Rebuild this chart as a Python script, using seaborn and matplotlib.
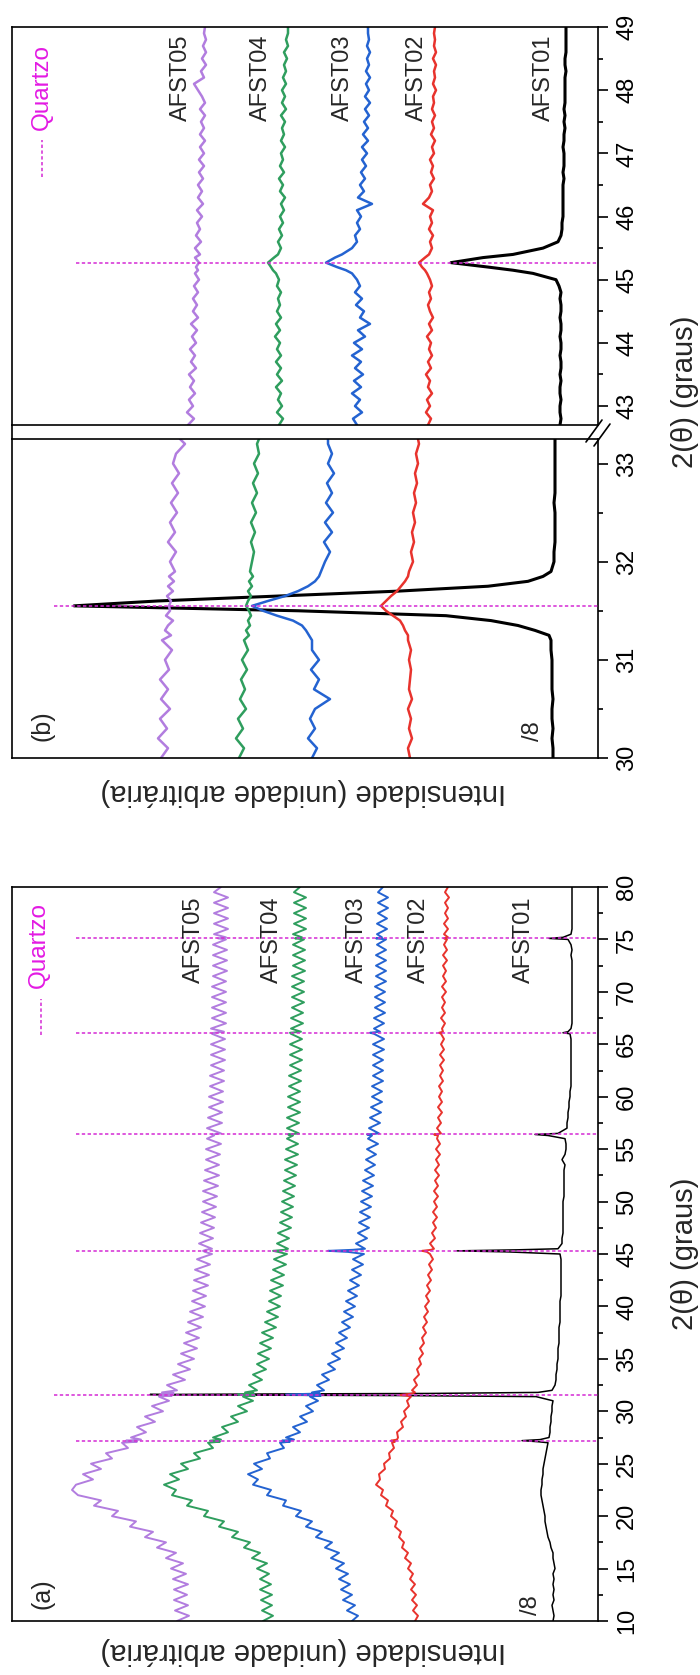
import numpy as np
import pandas as pd
import matplotlib
matplotlib.use("Agg")
import matplotlib.pyplot as plt
import seaborn as sns
from matplotlib.ticker import MultipleLocator
from matplotlib.lines import Line2D

sns.set_theme(style="white")
plt.rcParams['font.family'] = ['Liberation Sans', 'DejaVu Sans']

# ---------------- data ----------------
SAMPLES = ["AFST01", "AFST02", "AFST03", "AFST04", "AFST05"]
COLORS = {"AFST01": "#000000", "AFST02": "#e8332d", "AFST03": "#2463d1",
          "AFST04": "#2f9e5e", "AFST05": "#b27ddf"}
QUARTZ_COLOR = "#d42ad4"

# panel (a): 2theta grid (degrees) and intensity (arb. units)
THETA_A = [10.0, 10.5, 11.0, 11.5, 12.0, 12.5, 13.0, 13.5, 14.0, 14.5,
           15.0, 15.5, 16.0, 16.5, 17.0, 17.5, 18.0, 18.5, 19.0, 19.5,
           20.0, 20.5, 21.0, 21.5, 22.0, 22.5, 23.0, 23.5, 24.0, 24.5,
           25.0, 25.5, 26.0, 26.5, 27.0, 27.1, 27.2, 27.3, 27.5, 28.0,
           28.5, 29.0, 29.5, 30.0, 30.5, 31.0, 31.4, 31.5, 31.55, 31.6,
           31.65, 31.7, 31.8, 32.0, 32.5, 33.0, 33.5, 34.0, 34.5, 35.0,
           35.5, 36.0, 36.5, 37.0, 37.5, 38.0, 38.5, 39.0, 39.5, 40.0,
           40.5, 41.0, 41.5, 42.0, 42.5, 43.0, 43.5, 44.0, 44.5, 45.0,
           45.2, 45.3, 45.4, 45.5, 46.0, 46.5, 47.0, 47.5, 48.0, 48.5,
           49.0, 49.5, 50.0, 50.5, 51.0, 51.5, 52.0, 52.5, 53.0, 53.5,
           54.0, 54.5, 55.0, 55.5, 56.0, 56.3, 56.4, 56.5, 57.0, 57.5,
           58.0, 58.5, 59.0, 59.5, 60.0, 60.5, 61.0, 61.5, 62.0, 62.5,
           63.0, 63.5, 64.0, 64.5, 65.0, 65.5, 66.0, 66.1, 66.2, 66.5,
           67.0, 67.5, 68.0, 68.5, 69.0, 69.5, 70.0, 70.5, 71.0, 71.5,
           72.0, 72.5, 73.0, 73.5, 74.0, 74.5, 75.0, 75.1, 75.2, 75.5,
           76.0, 76.5, 77.0, 77.5, 78.0, 78.5, 79.0, 79.5, 80.0]

A_AFST01 = [45, 44, 45, 46, 44, 45, 44, 45, 44, 45,
            43, 44, 45, 45, 47, 48, 50, 51, 52, 53,
            53, 54, 55, 56, 57, 57, 56, 56, 55, 55,
            54, 53, 52, 51, 50, 60, 76, 58, 49, 48,
            48, 47, 47, 46, 46, 45, 62, 200, 400, 448,
            330, 170, 60, 46, 43, 42, 42, 41, 41, 40,
            40, 40, 39, 39, 39, 39, 38, 38, 38, 38,
            38, 37, 37, 37, 37, 37, 37, 37, 37, 38,
            90, 141, 80, 40, 36, 36, 35, 35, 35, 35,
            35, 35, 35, 34, 34, 34, 34, 34, 34, 33,
            36, 33, 32, 32, 33, 50, 63, 40, 31, 31,
            30, 30, 29, 29, 28, 28, 27, 27, 27, 27,
            27, 27, 27, 27, 27, 27, 28, 35, 30, 27,
            26, 26, 26, 26, 26, 26, 26, 26, 26, 26,
            26, 26, 26, 27, 26, 27, 30, 49, 35, 27,
            26, 26, 26, 26, 26, 26, 26, 26, 26]

A_AFST02 = [183, 180, 185, 181, 186, 182, 187, 183, 188, 185,
            190, 187, 193, 190, 196, 194, 199, 197, 203, 201,
            207, 205, 212, 210, 217, 215, 222, 218, 219, 213,
            214, 208, 209, 204, 206, 203, 207, 201, 200, 201,
            195, 197, 192, 194, 189, 191, 187, 192, 198, 195,
            189, 186, 183, 186, 181, 184, 179, 181, 177, 179,
            175, 178, 174, 176, 172, 175, 171, 174, 170, 173,
            169, 172, 168, 171, 167, 170, 166, 169, 165, 168,
            171, 176, 167, 164, 168, 163, 166, 162, 165, 161,
            165, 161, 164, 160, 164, 160, 163, 159, 163, 159,
            162, 158, 162, 158, 161, 160, 164, 157, 161, 157,
            160, 156, 160, 156, 159, 156, 159, 155, 158, 155,
            158, 154, 158, 154, 157, 154, 157, 159, 155, 156,
            153, 157, 153, 156, 153, 156, 152, 156, 152, 155,
            152, 155, 151, 155, 151, 154, 151, 154, 150, 154,
            150, 154, 150, 153, 150, 153, 149, 153, 150]

A_AFST03 = [246, 240, 251, 243, 255, 246, 257, 248, 259, 250,
            262, 254, 267, 259, 273, 266, 282, 276, 292, 286,
            302, 297, 315, 312, 331, 327, 345, 340, 350, 336,
            344, 328, 331, 314, 318, 308, 316, 304, 312, 298,
            305, 291, 298, 285, 292, 280, 288, 277, 295, 312,
            295, 278, 286, 274, 281, 269, 276, 263, 270, 258,
            266, 254, 262, 251, 259, 248, 256, 245, 254, 243,
            252, 241, 250, 239, 248, 237, 246, 235, 245, 234,
            250, 270, 245, 233, 242, 231, 240, 229, 239, 228,
            238, 227, 237, 226, 236, 225, 235, 224, 233, 223,
            232, 222, 231, 220, 230, 226, 231, 219, 229, 218,
            228, 217, 227, 216, 226, 216, 226, 215, 225, 215,
            225, 215, 225, 214, 225, 214, 224, 228, 218, 224,
            214, 224, 213, 223, 213, 223, 213, 223, 212, 222,
            212, 222, 212, 222, 212, 221, 212, 222, 216, 221,
            211, 221, 211, 220, 210, 220, 210, 220, 215]

A_AFST04 = [335, 325, 336, 326, 337, 326, 338, 327, 338, 329,
            341, 331, 346, 338, 354, 348, 366, 360, 379, 374,
            394, 390, 411, 406, 426, 422, 434, 419, 428, 410,
            417, 398, 404, 385, 390, 378, 388, 377, 385, 370,
            376, 360, 367, 351, 360, 345, 355, 343, 356, 360,
            352, 344, 353, 341, 349, 336, 345, 332, 341, 329,
            340, 327, 338, 325, 336, 322, 333, 320, 331, 318,
            329, 317, 328, 315, 327, 314, 325, 312, 324, 311,
            320, 325, 314, 310, 321, 309, 320, 307, 318, 306,
            317, 305, 316, 304, 315, 303, 314, 302, 313, 301,
            313, 300, 312, 300, 311, 305, 310, 299, 311, 299,
            311, 298, 310, 298, 310, 298, 309, 297, 309, 297,
            308, 296, 308, 296, 308, 296, 307, 308, 297, 307,
            295, 307, 295, 306, 294, 306, 294, 306, 294, 306,
            293, 305, 293, 305, 293, 305, 294, 303, 296, 305,
            292, 304, 292, 304, 292, 304, 292, 304, 298]

A_AFST05 = [421, 409, 423, 410, 424, 411, 424, 410, 425, 412,
            427, 415, 432, 422, 441, 432, 453, 445, 468, 462,
            486, 480, 504, 497, 520, 526, 522, 505, 515, 497,
            507, 486, 492, 470, 476, 461, 472, 457, 467, 452,
            461, 443, 453, 435, 446, 429, 439, 426, 438, 425,
            437, 424, 436, 421, 431, 413, 425, 408, 420, 404,
            417, 401, 414, 399, 412, 397, 410, 395, 408, 393,
            406, 392, 405, 390, 404, 389, 403, 388, 401, 386,
            393, 395, 392, 386, 399, 385, 398, 384, 397, 383,
            396, 382, 395, 381, 395, 380, 394, 379, 393, 379,
            392, 378, 392, 377, 391, 384, 386, 377, 391, 376,
            390, 376, 389, 375, 389, 375, 388, 374, 388, 374,
            387, 373, 387, 373, 387, 373, 386, 384, 374, 387,
            372, 386, 372, 386, 372, 386, 372, 386, 372, 385,
            371, 385, 371, 385, 371, 385, 372, 380, 372, 384,
            370, 384, 370, 384, 370, 384, 370, 384, 377]

# panel (b), low-angle segment
THETA_B_LOW = [30.0, 30.1, 30.2, 30.3, 30.4, 30.5, 30.6, 30.7, 30.8, 30.9,
               31.0, 31.1, 31.2, 31.25, 31.3, 31.35, 31.4, 31.45, 31.5, 31.55,
               31.6, 31.65, 31.7, 31.75, 31.8, 31.85, 31.9, 32.0, 32.1, 32.2,
               32.3, 32.4, 32.5, 32.6, 32.7, 32.8, 32.9, 33.0, 33.1, 33.2,
               33.25]
BL_AFST01 = [45, 45, 46, 45, 46, 46, 45, 46, 46, 46,
             46, 47, 47, 49, 63, 80, 107, 152, 300, 524,
             440, 320, 200, 110, 70, 55, 47, 44, 44, 43,
             43, 43, 43, 44, 43, 43, 43, 43, 43, 43,
             43]
BL_AFST02 = [188, 190, 186, 189, 187, 190, 186, 189, 188, 187,
             189, 187, 190, 190, 193, 195, 198, 205, 212, 217,
             212, 207, 201, 197, 193, 190, 189, 185, 187, 184,
             186, 183, 185, 182, 184, 181, 183, 180, 182, 179,
             180]
BL_AFST03 = [286, 281, 290, 283, 288, 283, 268, 284, 279, 287,
             279, 286, 286, 289, 292, 296, 305, 321, 335, 346,
             330, 313, 300, 290, 283, 279, 277, 273, 268, 274,
             266, 273, 265, 272, 266, 271, 264, 270, 266, 270,
             270]
BL_AFST04 = [359, 354, 362, 355, 360, 352, 358, 353, 357, 351,
             356, 350, 354, 349, 352, 348, 350, 347, 349, 352,
             350, 347, 350, 346, 349, 345, 348, 346, 344, 347,
             343, 347, 342, 346, 341, 345, 340, 344, 339, 341,
             339]
BL_AFST05 = [437, 430, 440, 431, 438, 428, 437, 430, 438, 429,
             433, 426, 436, 427, 433, 430, 425, 432, 428, 429,
             427, 431, 425, 430, 424, 429, 423, 428, 422, 430,
             423, 428, 421, 427, 420, 426, 419, 425, 422, 413,
             418]

# panel (b), high-angle segment
THETA_B_HIGH = [42.7, 42.8, 42.9, 43.0, 43.1, 43.2, 43.3, 43.4, 43.5, 43.6,
                43.7, 43.8, 43.9, 44.0, 44.1, 44.2, 44.3, 44.4, 44.5, 44.6,
                44.7, 44.8, 44.9, 45.0, 45.1, 45.15, 45.2, 45.27, 45.35, 45.4,
                45.5, 45.6, 45.7, 45.8, 45.9, 46.0, 46.1, 46.2, 46.3, 46.4,
                46.5, 46.6, 46.7, 46.8, 46.9, 47.0, 47.1, 47.2, 47.3, 47.4,
                47.5, 47.6, 47.7, 47.8, 47.9, 48.0, 48.1, 48.2, 48.3, 48.4,
                48.5, 48.6, 48.7, 48.8, 48.9, 49.0]
BH_AFST01 = [38, 37, 38, 38, 37, 38, 38, 37, 38, 37,
             37, 38, 37, 37, 38, 37, 37, 38, 37, 37,
             38, 37, 39, 42, 65, 85, 110, 147, 115, 85,
             55, 40, 37, 36, 36, 35, 35, 35, 35, 35,
             35, 34, 35, 34, 34, 34, 35, 34, 34, 33,
             34, 33, 34, 33, 33, 33, 33, 33, 32, 33,
             33, 32, 32, 32, 32, 32]
BH_AFST02 = [170, 167, 172, 168, 171, 166, 170, 168, 172, 167,
             170, 166, 169, 167, 171, 166, 169, 165, 168, 170,
             167, 169, 166, 168, 171, 173, 176, 179, 173, 169,
             166, 168, 165, 169, 166, 168, 165, 175, 169, 166,
             168, 164, 167, 165, 168, 164, 166, 163, 167, 164,
             166, 163, 166, 164, 165, 162, 165, 163, 164, 162,
             165, 162, 164, 163, 164, 163]
BH_AFST03 = [241, 245, 236, 243, 238, 246, 237, 244, 235, 243,
             237, 246, 236, 244, 233, 240, 228, 238, 234, 242,
             236, 243, 238, 241, 246, 252, 261, 272, 263, 256,
             246, 241, 243, 238, 241, 237, 241, 226, 240, 234,
             238, 233, 237, 232, 236, 231, 236, 230, 235, 230,
             234, 229, 233, 228, 233, 229, 232, 228, 232, 229,
             231, 228, 231, 229, 230, 230]
BH_AFST04 = [319, 315, 321, 316, 320, 317, 322, 316, 321, 317,
             322, 317, 321, 318, 323, 318, 322, 317, 321, 318,
             320, 317, 321, 319, 322, 325, 327, 330, 324, 320,
             317, 320, 316, 319, 315, 318, 314, 317, 313, 318,
             315, 319, 314, 318, 315, 317, 313, 317, 314, 316,
             313, 317, 312, 316, 313, 316, 312, 315, 312, 314,
             311, 314, 310, 312, 310, 310]
BH_AFST05 = [410, 404, 411, 405, 409, 403, 408, 404, 409, 402,
             407, 403, 408, 402, 406, 401, 407, 400, 405, 401,
             405, 400, 404, 399, 403, 400, 402, 399, 403, 398,
             403, 397, 402, 398, 401, 396, 401, 395, 400, 396,
             400, 395, 399, 394, 399, 394, 398, 393, 398, 394,
             397, 393, 398, 393, 396, 400, 404, 394, 397, 392,
             396, 392, 395, 392, 394, 393]

QUARTZ_A = [27.2, 31.6, 45.3, 56.4, 66.1, 75.1]
QUARTZ_B = [31.55, 45.27]

SERIES_A = dict(zip(SAMPLES, [A_AFST01, A_AFST02, A_AFST03, A_AFST04, A_AFST05]))
SERIES_BL = dict(zip(SAMPLES, [BL_AFST01, BL_AFST02, BL_AFST03, BL_AFST04, BL_AFST05]))
SERIES_BH = dict(zip(SAMPLES, [BH_AFST01, BH_AFST02, BH_AFST03, BH_AFST04, BH_AFST05]))

for th, ser in [(THETA_A, SERIES_A), (THETA_B_LOW, SERIES_BL), (THETA_B_HIGH, SERIES_BH)]:
    for k, v in ser.items():
        assert len(v) == len(th), (k, len(v), len(th))

# ---------------- figure ----------------
W, H = 700, 1675
fig = plt.figure(figsize=(W / 100, H / 100), dpi=100)


def fx(px):
    return px / W


def fy(py):
    return 1 - py / H


LEFT, RIGHT = 12, 598
ax_a = fig.add_axes([fx(LEFT), fy(1621), (RIGHT - LEFT) / W, (1621 - 887) / H])
ax_bh = fig.add_axes([fx(LEFT), fy(425), (RIGHT - LEFT) / W, (425 - 27) / H])
ax_bl = fig.add_axes([fx(LEFT), fy(758), (RIGHT - LEFT) / W, (758 - 439) / H])


def draw(ax, theta, series, lw, lw_black):
    for name in SAMPLES:
        df = pd.DataFrame({"theta": theta, "I": series[name]})
        sns.lineplot(data=df, x="I", y="theta", orient="y", sort=False,
                     estimator=None, color=COLORS[name],
                     lw=(lw_black if name == "AFST01" else lw), ax=ax, zorder=2)


def style(ax, ylim, major, minor, xmax):
    ax.set_xlim(xmax, 0)
    ax.set_ylim(*ylim)
    ax.set_xticks([])
    ax.set_xlabel("")
    ax.set_ylabel("")
    for s in ax.spines.values():
        s.set_visible(True)
        s.set_color("black")
        s.set_linewidth(1.2)
    ax.yaxis.tick_right()
    ax.yaxis.set_major_locator(MultipleLocator(major))
    ax.yaxis.set_minor_locator(MultipleLocator(minor))
    ax.tick_params(axis="y", which="major", direction="out", length=7, width=1.2,
                   colors="black", labelsize=17, labelrotation=90, pad=6,
                   left=False, right=True, labelleft=False, labelright=True)
    ax.tick_params(axis="y", which="minor", direction="out", length=3.5, width=1.2,
                   colors="black", left=False, right=True)
    for lab in ax.get_yticklabels():
        lab.set_va("center")


draw(ax_a, THETA_A, SERIES_A, 1.4, 1.1)
draw(ax_bl, THETA_B_LOW, SERIES_BL, 1.8, 2.2)
draw(ax_bh, THETA_B_HIGH, SERIES_BH, 1.8, 2.2)

style(ax_a, (10, 80), 5, 2.5, RIGHT - LEFT)
style(ax_bl, (30, 33.25), 1, 0.5, RIGHT - LEFT)
style(ax_bh, (42.7, 49), 1, 0.5, RIGHT - LEFT)

# quartz reference lines
qkw = dict(color=QUARTZ_COLOR, lw=1.1, linestyle=(0, (2.2, 1.6)), zorder=3)
for q in QUARTZ_A:
    start = 0.072 if q == 31.6 else 0.109
    ax_a.hlines(q, start, 1.0, transform=ax_a.get_yaxis_transform(), **qkw)
ax_bl.hlines(QUARTZ_B[0], 0.072, 1.0, transform=ax_bl.get_yaxis_transform(), **qkw)
ax_bh.hlines(QUARTZ_B[1], 0.109, 1.0, transform=ax_bh.get_yaxis_transform(), **qkw)

# legends ("Quartzo")
ax_a.text(0.046, 0.921, "Quartzo", rotation=90, ha="center", va="center",
          fontsize=17.5, color="#e31ae3", transform=ax_a.transAxes)
ax_a.plot([0.049, 0.049], [0.798, 0.847], transform=ax_a.transAxes, **qkw)
ax_bh.text(0.051, 0.849, "Quartzo", rotation=90, ha="center", va="center",
           fontsize=17.5, color="#e31ae3", transform=ax_bh.transAxes)
ax_bh.plot([0.051, 0.051], [0.623, 0.716], transform=ax_bh.transAxes, **qkw)

# sample labels
LABEL_I_A = [74, 179, 241, 326, 404]
LABEL_I_B = [54, 181, 255, 337, 417]
for name, ia, ib in zip(SAMPLES, LABEL_I_A, LABEL_I_B):
    ax_a.text(ia, 75.0, name, rotation=90, ha="center", va="center", fontsize=17)
    ax_bh.text(ib, 48.2, name, rotation=90, ha="center", va="center", fontsize=17)

# panel tags and scaling notes
ax_a.text(556, 12.6, "(a)", rotation=90, ha="center", va="center", fontsize=18)
ax_a.text(67, 11.5, "/8", rotation=90, ha="center", va="center", fontsize=17)
ax_bl.text(556, 30.33, "(b)", rotation=90, ha="center", va="center", fontsize=18)
ax_bl.text(65, 30.27, "/8", rotation=90, ha="center", va="center", fontsize=17)

# axis titles
fig.text(fx(685), fy(392), "2(θ) (graus)", rotation=90, ha="center", va="center", fontsize=21)
fig.text(fx(685), fy(1254), "2(θ) (graus)", rotation=90, ha="center", va="center", fontsize=21)
fig.text(fx(303), fy(792), "Intensidade (unidade arbitrária)", rotation=180,
         ha="center", va="center", fontsize=21)
fig.text(fx(303), fy(1651), "Intensidade (unidade arbitrária)", rotation=180,
         ha="center", va="center", fontsize=21)

# axis break decorations
fig.add_artist(Line2D([fx(LEFT), fx(LEFT)], [fy(425), fy(439)], color="black", lw=1.2))
fig.add_artist(Line2D([fx(586), fx(602)], [fy(442), fy(420)], color="black", lw=1.2))
fig.add_artist(Line2D([fx(594), fx(610)], [fy(446), fy(424)], color="black", lw=1.2))

fig.savefig("out.png", dpi=100, facecolor="white")
